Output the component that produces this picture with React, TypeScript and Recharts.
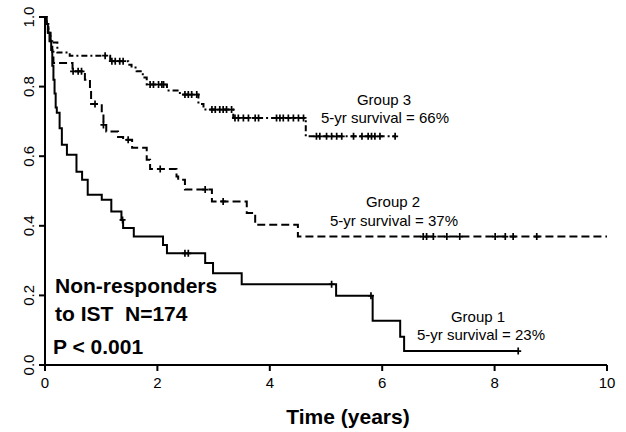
import { ComposedChart, Line, Scatter, XAxis, YAxis } from "recharts";

const FONT = "Arial, 'Liberation Sans', Helvetica, sans-serif";

// Kaplan-Meier step points (years, survival) for each group
const group1Times = [0, 0.02, 0.05, 0.08, 0.11, 0.13, 0.15, 0.17, 0.19, 0.21, 0.26, 0.3, 0.39, 0.56, 0.66, 0.76, 1.01, 1.18, 1.36, 1.39, 1.58, 2.1, 2.17, 2.85, 2.99, 3.5, 5.18, 5.83, 6.32, 6.39, 8.42];
const group1Surv = [1.0, 0.98, 0.955, 0.93, 0.905, 0.86, 0.82, 0.78, 0.74, 0.725, 0.68, 0.633, 0.604, 0.555, 0.532, 0.489, 0.475, 0.441, 0.417, 0.394, 0.369, 0.345, 0.321, 0.293, 0.264, 0.232, 0.199, 0.127, 0.081, 0.04, 0.04];

const group2Times = [0, 0.03, 0.06, 0.1, 0.13, 0.15, 0.49, 0.71, 0.8, 0.82, 1.01, 1.04, 1.09, 1.3, 1.39, 1.55, 1.81, 1.87, 2.34, 2.37, 2.49, 2.97, 3.59, 3.74, 4.5, 10];
const group2Surv = [1.0, 0.98, 0.955, 0.93, 0.9, 0.868, 0.844, 0.82, 0.79, 0.75, 0.72, 0.69, 0.671, 0.655, 0.647, 0.624, 0.59, 0.563, 0.542, 0.532, 0.504, 0.47, 0.437, 0.403, 0.369, 0.369];

const group3Times = [0, 0.03, 0.06, 0.1, 0.22, 0.44, 1.16, 1.48, 1.54, 1.63, 1.74, 1.81, 2.17, 2.4, 2.73, 2.82, 3.35, 4.64, 6.23];
const group3Surv = [1.0, 0.98, 0.955, 0.927, 0.898, 0.889, 0.873, 0.863, 0.855, 0.844, 0.826, 0.806, 0.789, 0.777, 0.75, 0.734, 0.71, 0.657, 0.657];

// censoring times
const group1Censor = [1.38, 2.49, 2.55, 5.1, 5.8, 8.42];
const group2Censor = [0.5, 0.59, 0.65, 0.89, 1.04, 1.48, 2.05, 2.85, 3.17, 6.73, 6.79, 6.91, 7.15, 7.38, 8.01, 8.19, 8.33, 8.75];
const group3Censor = [1.07, 1.19, 1.25, 1.33, 1.39, 1.87, 1.93, 2.02, 2.08, 2.11, 2.49, 2.55, 2.61, 2.7, 2.97, 3.03, 3.11, 3.17, 3.23, 3.32, 3.38, 3.44, 3.53, 3.62, 3.74, 3.8, 4.12, 4.18, 4.24, 4.33, 4.42, 4.51, 4.6, 4.83, 4.89, 5.01, 5.1, 5.19, 5.28, 5.49, 5.64, 5.75, 5.81, 5.87, 5.96, 6.23];

const xTicks = [0, 2, 4, 6, 8, 10];
const yTicks = [0, 0.2, 0.4, 0.6, 0.8, 1.0];

const toRows = (times: number[], surv: number[]) =>
  times.map((t, i) => ({ t, s: surv[i] }));

// survival value of the step curve at time t
const survAt = (times: number[], surv: number[], t: number) => {
  let s = surv[0];
  times.forEach((tt, i) => {
    if (tt <= t) s = surv[i];
  });
  return s;
};

const censorRows = (censor: number[], times: number[], surv: number[]) =>
  censor.map((t) => ({ t, s: survAt(times, surv, t) }));

const g1 = toRows(group1Times, group1Surv);
const g2 = toRows(group2Times, group2Surv);
const g3 = toRows(group3Times, group3Surv);
const censored = [
  ...censorRows(group1Censor, group1Times, group1Surv),
  ...censorRows(group2Censor, group2Times, group2Surv),
  ...censorRows(group3Censor, group3Times, group3Surv),
];

const Plus = (props: any) => {
  const { cx, cy } = props;
  return (
    <path
      d={`M${cx - 3},${cy}H${cx + 3}M${cx},${cy - 3.5}V${cy + 3.5}`}
      stroke="#000"
      strokeWidth={1.7}
      fill="none"
    />
  );
};

const XTick = (props: any) => {
  const { x, y, payload } = props;
  return (
    <text x={x} y={y + 15} textAnchor="middle" fontSize={15} fontFamily={FONT} fill="#000">
      {payload.value}
    </text>
  );
};

const YTick = (props: any) => {
  const { x, y, payload } = props;
  const bx = x - 3;
  return (
    <text
      x={bx}
      y={y}
      transform={`rotate(-90 ${bx} ${y})`}
      textAnchor="middle"
      fontSize={15}
      fontFamily={FONT}
      fill="#000"
    >
      {payload.value.toFixed(1)}
    </text>
  );
};

export default function App() {
  return (
    <div style={{ position: "absolute", left: 0, top: 0, width: 626, height: 432, background: "#fff" }}>
      <ComposedChart width={626} height={432} margin={{ top: 17, right: 19, bottom: 37, left: 0 }}>
        <XAxis
          type="number"
          dataKey="t"
          domain={[0, 10]}
          ticks={xTicks}
          height={30}
          tickSize={6}
          axisLine={{ stroke: "#000", strokeWidth: 2 }}
          tickLine={{ stroke: "#000", strokeWidth: 2 }}
          tick={<XTick />}
        />
        <YAxis
          type="number"
          dataKey="s"
          domain={[0, 1]}
          ticks={yTicks}
          width={45}
          tickSize={6}
          axisLine={{ stroke: "#000", strokeWidth: 2 }}
          tickLine={{ stroke: "#000", strokeWidth: 2 }}
          tick={<YTick />}
        />
        <Line data={g1} dataKey="s" type="stepAfter" stroke="#000" strokeWidth={2} dot={false} isAnimationActive={false} />
        <Line data={g2} dataKey="s" type="stepAfter" stroke="#000" strokeWidth={2} strokeDasharray="8 4" dot={false} isAnimationActive={false} />
        <Line data={g3} dataKey="s" type="stepAfter" stroke="#000" strokeWidth={2} strokeDasharray="2 3 6 3" dot={false} isAnimationActive={false} />
        <Scatter data={censored} dataKey="s" shape={<Plus />} isAnimationActive={false} />
      </ComposedChart>
      <svg width={626} height={432} style={{ position: "absolute", left: 0, top: 0, pointerEvents: "none" }}>
        <g fontFamily={FONT} fill="#000">
          <text x={384} y={105} fontSize={15} textAnchor="middle">Group 3</text>
          <text x={385} y={123} fontSize={15} textAnchor="middle">5-yr survival = 66%</text>
          <text x={393} y={207} fontSize={15} textAnchor="middle">Group 2</text>
          <text x={394} y={226} fontSize={15} textAnchor="middle">5-yr survival = 37%</text>
          <text x={478} y={322} fontSize={15} textAnchor="middle">Group 1</text>
          <text x={481} y={340} fontSize={15} textAnchor="middle">5-yr survival = 23%</text>
          <text x={55} y={293} fontSize={21} fontWeight="bold">Non-responders</text>
          <text x={55} y={321} fontSize={21} fontWeight="bold" style={{ whiteSpace: "pre" }}>{"to IST  N=174"}</text>
          <text x={53} y={354} fontSize={21} fontWeight="bold">P &lt; 0.001</text>
          <text x={348} y={424} fontSize={21} fontWeight="bold" textAnchor="middle">Time (years)</text>
        </g>
      </svg>
    </div>
  );
}
